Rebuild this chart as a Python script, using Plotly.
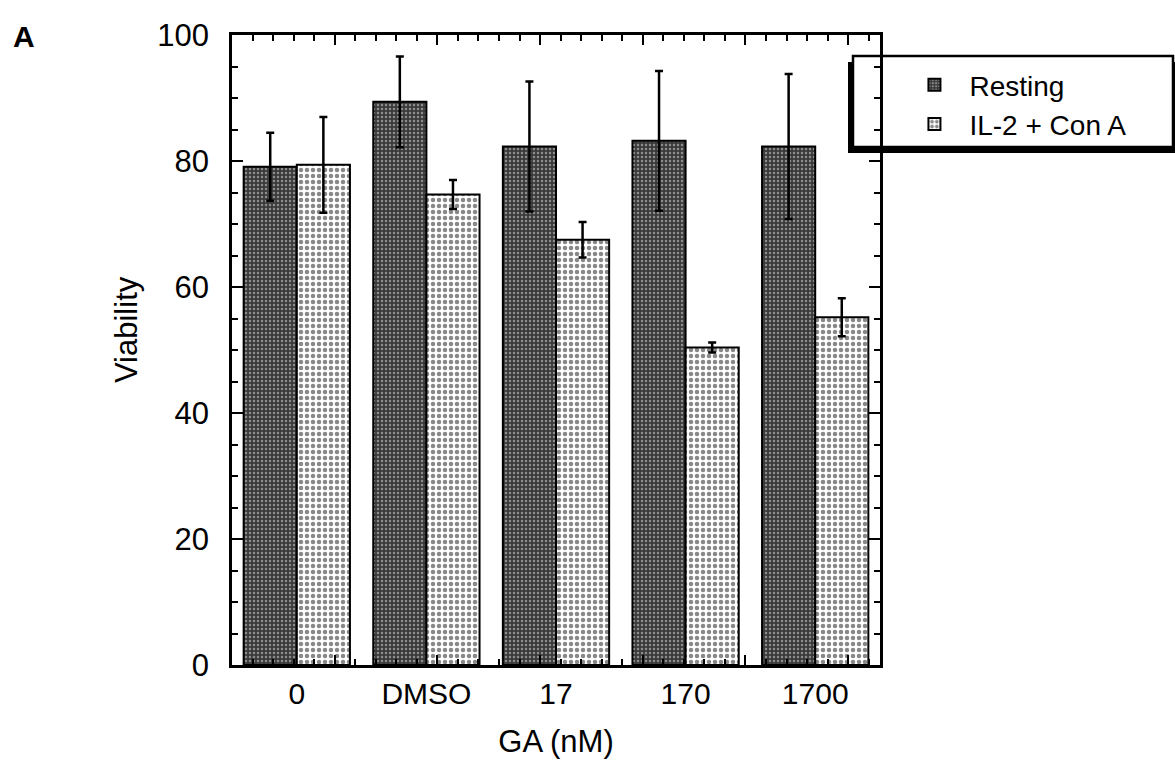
import plotly.graph_objects as go

categories = ["0", "DMSO", "17", "170", "1700"]
resting = [79.1, 89.4, 82.3, 83.2, 82.3]
resting_err = [5.4, 7.2, 10.3, 11.1, 11.5]
il2 = [79.4, 74.7, 67.5, 50.4, 55.2]
il2_err = [7.6, 2.3, 2.8, 0.8, 3.0]
y_ticks = [0, 20, 40, 60, 80, 100]

FONT = "Liberation Sans, Arial, sans-serif"

fig = go.Figure()
fig.add_trace(go.Bar(
    x=categories, y=resting, name="Resting",
    error_y=dict(type="data", array=resting_err, visible=True, color="black", thickness=2.5, width=4),
    marker=dict(color="#3a3a3a", line=dict(color="black", width=2),
                pattern=dict(shape=".", bgcolor="#3a3a3a", fgcolor="#e0e0e0", size=4, solidity=0.3, fillmode="overlay")),
))
fig.add_trace(go.Bar(
    x=categories, y=il2, name="IL-2 + Con A",
    error_y=dict(type="data", array=il2_err, visible=True, color="black", thickness=2.5, width=4),
    marker=dict(color="white", line=dict(color="black", width=2),
                pattern=dict(shape=".", bgcolor="white", fgcolor="#111111", size=6, solidity=0.45, fillmode="overlay")),
))
# invisible helper trace for the decorative numeric tick axis
fig.add_trace(go.Scatter(x=[0], y=[0], xaxis="x2", yaxis="y", mode="markers",
                         marker=dict(opacity=0), showlegend=False, hoverinfo="skip"))

W, L, R, T, B = 1175, 232, 295, 35, 101
PW = W - L - R
PH = 766 - T - B

def px(xp):
    return (xp - L) / PW

def py(yp):
    return (766 - B - yp) / PH

fig.update_layout(
    width=W, height=766,
    margin=dict(l=L, r=R, t=T, b=B),
    paper_bgcolor="white", plot_bgcolor="rgba(0,0,0,0)",
    barmode="group", bargap=0.18, bargroupgap=0,
    font=dict(family=FONT, color="black"),
    showlegend=True,
    legend=dict(x=1.03, xanchor="left", y=py(60), yanchor="top",
                bgcolor="rgba(0,0,0,0)", borderwidth=0,
                font=dict(size=28, family=FONT), itemwidth=60,
                tracegroupgap=0),
    xaxis=dict(
        showline=True, linecolor="black", linewidth=2.5, mirror=True,
        ticks="", showgrid=False, tickfont=dict(size=30),
        ticklabelstandoff=0,
        title=dict(text="GA (nM)", font=dict(size=31), standoff=22),
    ),
    xaxis2=dict(
        overlaying="x", anchor="y", side="bottom", range=[0, 6.31],
        showticklabels=False, showgrid=False, showline=False,
        ticks="inside", ticklen=10, tickwidth=2, tickcolor="black", dtick=1, tick0=0,
        mirror="ticks",
        minor=dict(ticks="inside", ticklen=6, tickwidth=2, tickcolor="black", dtick=0.2),
        zeroline=False,
    ),
    yaxis=dict(
        range=[0, 100], tickvals=y_ticks,
        showline=True, linecolor="black", linewidth=2.5, mirror="ticks",
        ticks="inside", ticklen=11, tickwidth=2, tickcolor="black",
        minor=dict(ticks="inside", ticklen=6, tickwidth=2, tickcolor="black", dtick=5),
        showgrid=False, zeroline=False,
        tickfont=dict(size=31), ticklabelstandoff=14,
    ),
    annotations=[
        dict(text="<b>A</b>", xref="paper", yref="paper",
             x=px(11), y=py(36), xanchor="left", yanchor="middle",
             showarrow=False, font=dict(size=30, family=FONT)),
        dict(text="Viability", xref="paper", yref="paper",
             x=px(126), y=py(330), xanchor="center", yanchor="middle", textangle=-90,
             showarrow=False, font=dict(size=31, family=FONT)),
    ],
    shapes=[
        # legend shadow
        dict(type="rect", xref="paper", yref="paper", layer="below",
             x0=px(848), x1=px(1175), y0=py(153), y1=py(62),
             fillcolor="black", line=dict(width=0)),
        # legend box
        dict(type="rect", xref="paper", yref="paper", layer="below",
             x0=px(853), x1=px(1173), y0=py(147), y1=py(56),
             fillcolor="white", line=dict(color="black", width=2.5)),
    ],
)

fig.write_html("out.html")
